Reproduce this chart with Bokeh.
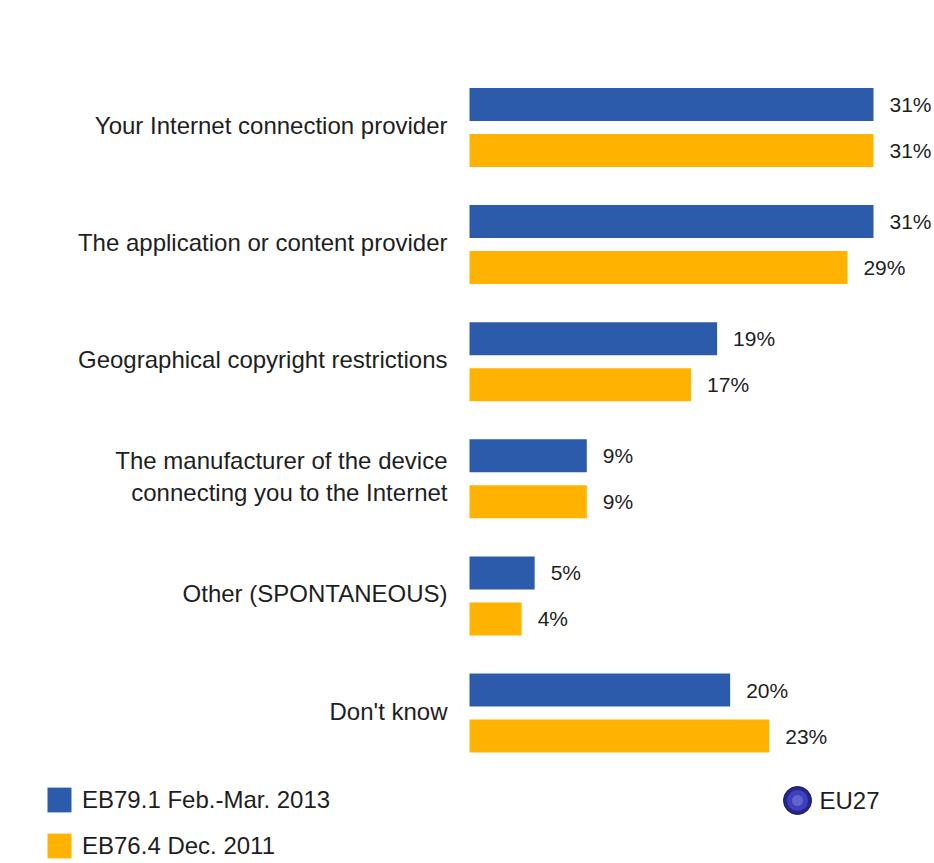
from bokeh.plotting import figure
from bokeh.models import Range1d, Legend, LegendItem, ColumnDataSource, Label
from bokeh.core.properties import value
from bokeh.embed import file_html
from bokeh.resources import INLINE

# ---- data ----
categories = [
    "Your Internet connection provider",
    "The application or content provider",
    "Geographical copyright restrictions",
    "The manufacturer of the device\nconnecting you to the Internet",
    "Other (SPONTANEOUS)",
    "Don't know",
]
series_names = ["EB79.1 Feb.-Mar. 2013", "EB76.4 Dec. 2011"]
eb79_2013 = [31, 31, 19, 9, 5, 20]
eb76_2011 = [31, 29, 17, 9, 4, 23]

BLUE = "#2D5BAB"
ORANGE = "#FFB300"
TEXT = "#1e1e1e"
FONT = "Liberation Sans"

W, H = 934, 863
# layout (pixels)
X0_PX = 469          # pixel where 0% sits
PX_PER_PCT = 404 / 31
G0_PX = 127          # centre of first group
G_STEP = 117.1       # pixels per group
BAR_PX = 33
OFF_PX = 23

x_start = -X0_PX / PX_PER_PCT
x_end = (W - X0_PX) / PX_PER_PCT
y_top = -G0_PX / G_STEP
y_bottom = (H - G0_PX) / G_STEP

p = figure(width=W, height=H, output_backend="svg", toolbar_location=None,
           x_range=Range1d(x_start, x_end), y_range=Range1d(y_bottom, y_top),
           x_axis_type=None, y_axis_type=None, min_border=0,
           outline_line_color=None, background_fill_color="white",
           border_fill_color="white")
p.grid.visible = False

idx = list(range(len(categories)))
off = OFF_PX / G_STEP
bh = BAR_PX / G_STEP

src_a = ColumnDataSource(dict(y=[i - off for i in idx], v=eb79_2013,
                              lab=[f"{v}%" for v in eb79_2013]))
src_b = ColumnDataSource(dict(y=[i + off for i in idx], v=eb76_2011,
                              lab=[f"{v}%" for v in eb76_2011]))

r_a = p.hbar(y="y", left=0, right="v", height=bh, source=src_a,
             fill_color=BLUE, line_color=None)
r_b = p.hbar(y="y", left=0, right="v", height=bh, source=src_b,
             fill_color=ORANGE, line_color=None)

for src in (src_a, src_b):
    p.text(x="v", y="y", text="lab", source=src, x_offset=16,
           text_align="left", text_baseline="middle",
           text_font=value(FONT), text_font_size="21px", text_color=TEXT)

cat_src = ColumnDataSource(dict(x=[0] * len(categories), y=idx, t=categories))
p.text(x="x", y="y", text="t", source=cat_src, x_offset=-22, y_offset=-2,
       text_align="right", text_baseline="middle", text_line_height=1.2,
       text_font=value(FONT), text_font_size="24px", text_color=TEXT)

legend = Legend(items=[LegendItem(label=series_names[0], renderers=[r_a]),
                       LegendItem(label=series_names[1], renderers=[r_b])],
                location=(44, 2), orientation="vertical",
                glyph_width=30, glyph_height=31, label_height=31,
                spacing=15, label_standoff=8, padding=0, margin=0,
                border_line_color=None, background_fill_alpha=0,
                label_text_font=FONT, label_text_font_size="24px",
                label_text_color=TEXT)
p.add_layout(legend)

# EU27 marker
gx = (797 - X0_PX) / PX_PER_PCT
gy = (800 - G0_PX) / G_STEP
p.scatter([gx], [gy], size=28, marker="circle", fill_color="#25258a",
          line_color="#1a1a60", line_width=1)
p.scatter([gx], [gy], size=21, marker="circle", fill_color="#4040bb",
          line_color=None)
p.scatter([gx], [gy], size=11, marker="circle", fill_color="#6a6ad8",
          line_color=None, fill_alpha=0.8)
p.add_layout(Label(x=819, y=H - 800, x_units="screen", y_units="screen",
                   text="EU27", text_font=FONT, text_font_size="24px",
                   text_color=TEXT, text_baseline="middle", text_align="left"))

open("out.html", "w").write(file_html(p, INLINE))
